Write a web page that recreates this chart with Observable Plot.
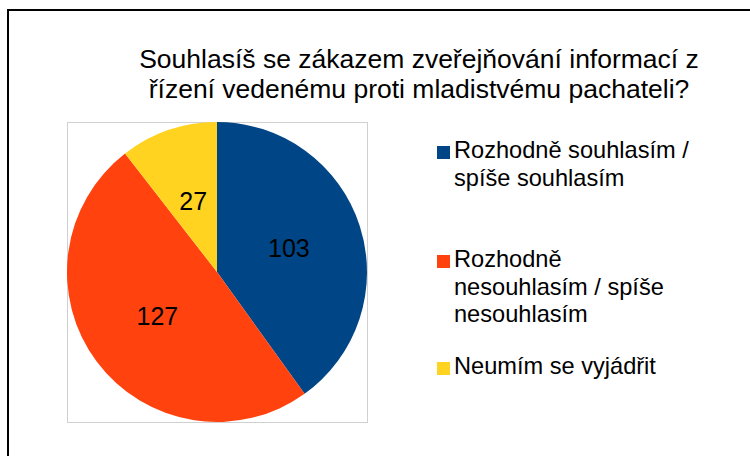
<!DOCTYPE html>
<html><head><meta charset="utf-8">
<script src="https://cdn.jsdelivr.net/npm/d3@7"></script>
<script src="https://cdn.jsdelivr.net/npm/@observablehq/plot@0.6"></script>
<style>
html,body{margin:0;padding:0;background:#fff;overflow:hidden;}
#wrap{position:relative;width:750px;height:456px;overflow:hidden;font-family:"Liberation Sans",Arial,sans-serif;color:#000;}
#border{position:absolute;left:7px;top:9px;width:800px;height:600px;border-left:2px solid #000;border-top:2px solid #000;}
#title{position:absolute;left:119px;width:600px;top:44px;text-align:center;font-size:26.5px;line-height:30px;white-space:nowrap;}
#chart{position:absolute;left:66px;top:121px;}
.item{position:absolute;left:454px;font-size:23.6px;line-height:27.5px;white-space:nowrap;}
.sw{position:absolute;left:437px;width:13px;height:13px;}
</style>
</head><body>
<div id="wrap">
  <div id="border"></div>
  <div id="title"></div>
  <div id="chart"></div>
  <div id="legend"></div>
</div>
<script>
// ---- data ----
const categories = ["Rozhodně souhlasím / spíše souhlasím", "Rozhodně nesouhlasím / spíše nesouhlasím", "Neumím se vyjádřit"];
const legendLines = [["Rozhodně souhlasím /", "spíše souhlasím"], ["Rozhodně", "nesouhlasím / spíše", "nesouhlasím"], ["Neumím se vyjádřit"]];
const values = [103, 127, 27];
const colors = ["#004586", "#ff420e", "#ffd320"];
const titleLines = ["Souhlasíš se zákazem zveřejňování informací z", "řízení vedenému proti mladistvému pachateli?"];

// ---- build ----
const data = categories.map((c, i) => ({category: c, value: values[i]}));
const arcs = d3.pie().sort(null).value(d => d.value)(data);
const labels = arcs.map(a => {
  const m = (a.startAngle + a.endAngle) / 2;
  return {x: 0.5 * Math.sin(m), y: 0.5 * Math.cos(m), text: String(a.data.value), category: a.data.category};
});

const color = {domain: categories, range: colors};

const pieMark = (index, scales, values, dimensions) => {
  const cx = scales.x(0), cy = scales.y(0);
  const r = Math.abs(scales.x(1) - scales.x(0));
  const arc = d3.arc().innerRadius(0).outerRadius(r);
  const g = d3.create("svg:g").attr("transform", `translate(${cx},${cy})`);
  g.selectAll("path").data(arcs).join("path")
    .attr("d", arc)
    .attr("fill", d => scales.color(d.data.category));
  return g.node();
};

const plot = Plot.plot({
  width: 302, height: 302,
  margin: 1,
  x: {domain: [-1, 1], axis: null},
  y: {domain: [-1, 1], axis: null},
  color,
  style: {fontFamily: "'Liberation Sans', Arial, sans-serif", background: "transparent", overflow: "visible"},
  marks: [
    Plot.frame({stroke: "#d0d0d0"}),
    Plot.dot(data, {x: () => 0, y: () => 0, r: 0, fill: "category"}),
    pieMark,
    Plot.text(labels, {x: "x", y: "y", text: "text", fontSize: 25, fill: "#000"})
  ]
});
document.getElementById("chart").appendChild(plot);

document.getElementById("title").innerHTML = titleLines.join("<br>");

const colorScale = Plot.scale({color});
const baselines = [159, 268, 375];
const legend = document.getElementById("legend");
legendLines.forEach((lines, i) => {
  const sw = document.createElement("div");
  sw.className = "sw";
  sw.style.top = (baselines[i] - 13) + "px";
  sw.style.background = colorScale.apply(categories[i]);
  legend.appendChild(sw);
  const t = document.createElement("div");
  t.className = "item";
  t.style.top = (baselines[i] - 22) + "px";
  t.innerHTML = lines.join("<br>");
  legend.appendChild(t);
});
</script>
</body></html>
